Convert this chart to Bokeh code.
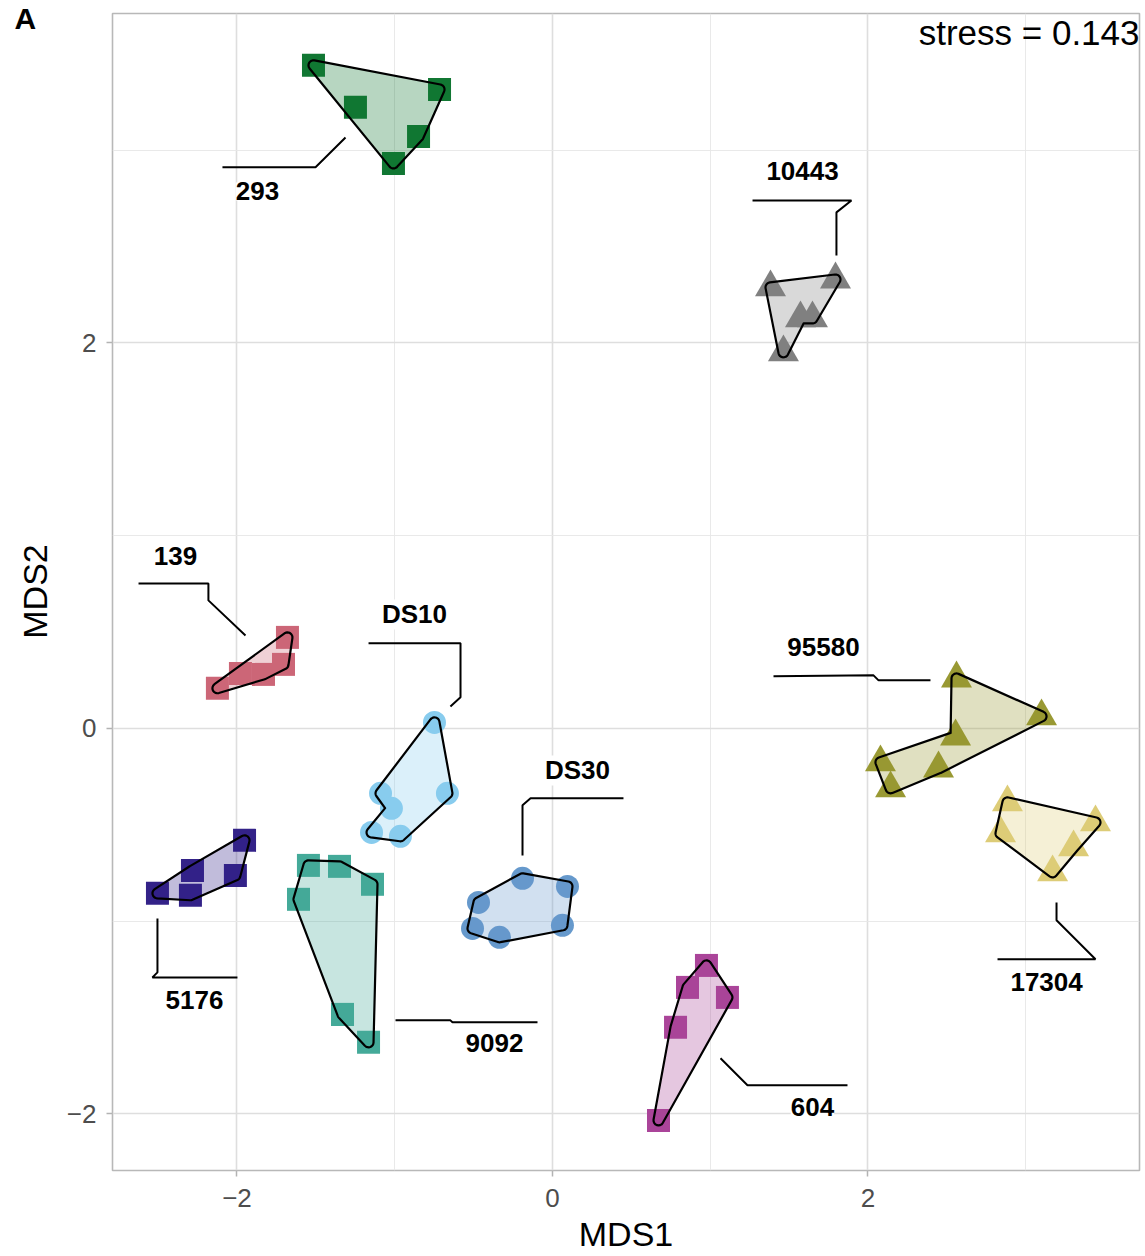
import math
from bokeh.plotting import figure
from bokeh.models import (ColumnDataSource, LabelSet, Label, FixedTicker, Range1d,
                          CustomJSTickFormatter)
from bokeh.core.properties import value
from bokeh.embed import file_html
from bokeh.resources import INLINE

# ---------------- data ----------------
groups = ["293", "10443", "139", "DS10", "DS30", "5176", "9092", "604", "95580", "17304"]
colors = ["#117733", "#808080", "#CC6677", "#88CCEE", "#6699CC",
          "#332288", "#44AA99", "#AA4499", "#999933", "#DDCC77"]
markers = ["square", "triangle", "square", "circle", "circle",
           "square", "square", "square", "triangle", "triangle"]

x_293 = [-1.515, -1.249, -0.716, -0.849, -1.008]
y_293 = [3.440, 3.222, 3.315, 3.071, 2.931]
hull_293 = [0, 2, 3, 4]

x_10443 = [1.382, 1.794, 1.572, 1.648, 1.464]
y_10443 = [2.288, 2.329, 2.127, 2.127, 1.951]
hull_10443 = [0, 1, 3, 2, 4]

x_139 = [-2.124, -1.978, -1.832, -1.705, -1.680]
y_139 = [0.208, 0.285, 0.280, 0.332, 0.472]
hull_139 = [0, 2, 3, 4]

x_DS10 = [-0.748, -1.090, -1.021, -1.147, -0.964, -0.666]
y_DS10 = [0.031, -0.337, -0.415, -0.540, -0.560, -0.337]
hull_DS10 = [0, 5, 4, 3, 2, 1]

x_DS30 = [-0.190, 0.095, -0.469, -0.507, -0.336, 0.063]
y_DS30 = [-0.778, -0.820, -0.903, -1.038, -1.084, -1.022]
hull_DS30 = [0, 1, 5, 4, 3, 2]

x_5176 = [-1.952, -2.282, -2.504, -2.295, -2.010]
y_5176 = [-0.581, -0.737, -0.856, -0.866, -0.763]
hull_5176 = [2, 1, 0, 4, 3]

x_9092 = [-1.547, -1.350, -1.141, -1.610, -1.331, -1.166]
y_9092 = [-0.711, -0.716, -0.809, -0.887, -1.484, -1.629]
hull_9092 = [0, 1, 2, 5, 4, 3]

x_604 = [0.976, 0.856, 1.109, 0.780, 0.672]
y_604 = [-1.230, -1.344, -1.396, -1.551, -2.034]
hull_604 = [0, 2, 4, 3, 1]

x_95580 = [2.561, 3.100, 2.555, 2.079, 2.447, 2.143]
y_95580 = [0.259, 0.062, -0.042, -0.176, -0.208, -0.311]
hull_95580 = [0, 1, 4, 5, 3, 2]

x_17304 = [2.884, 3.442, 2.840, 3.303, 3.170]
y_17304 = [-0.384, -0.488, -0.545, -0.617, -0.747]
hull_17304 = [0, 1, 3, 4, 2]

# label positions and leader paths
label_x = [-1.870, 1.585, -2.390, -0.875, 0.158, -2.269, -0.368, 1.648, 1.718, 3.132]
label_y = [2.786, 2.890, 0.892, 0.591, -0.218, -1.411, -1.634, -1.966, 0.420, -1.318]
leader_xs = [[-1.312, -1.502, -2.092],
             [1.800, 1.800, 1.895, 1.268],
             [-1.946, -2.181, -2.181, -2.624],
             [-0.647, -0.583, -0.583, -1.166],
             [-0.190, -0.190, -0.139, 0.450],
             [-2.504, -2.504, -2.536, -1.997],
             [-0.995, -0.647, -0.634, -0.095],
             [1.065, 1.236, 1.870],
             [1.401, 2.035, 2.067, 2.396],
             [3.195, 3.195, 3.442, 2.821]]
leader_ys = [[3.066, 2.911, 2.911],
             [2.454, 2.677, 2.739, 2.739],
             [0.482, 0.664, 0.752, 0.752],
             [0.114, 0.161, 0.441, 0.441],
             [-0.659, -0.399, -0.363, -0.363],
             [-0.986, -1.266, -1.292, -1.292],
             [-1.515, -1.515, -1.525, -1.525],
             [-1.712, -1.852, -1.852],
             [0.270, 0.275, 0.249, 0.249],
             [-0.903, -0.996, -1.198, -1.198]]

x_ticks = [-2, 0, 2]
x_minor = [-3, -1, 1, 3]
y_ticks = [-2, 0, 2]
y_minor = [-1, 1, 3]
x_title = "MDS1"
y_title = "MDS2"
stress_text = "stress = 0.143"
panel_tag = "A"

xs_all = [x_293, x_10443, x_139, x_DS10, x_DS30, x_5176, x_9092, x_604, x_95580, x_17304]
ys_all = [y_293, y_10443, y_139, y_DS10, y_DS30, y_5176, y_9092, y_604, y_95580, y_17304]
hulls = [hull_293, hull_10443, hull_139, hull_DS10, hull_DS30, hull_5176, hull_9092,
         hull_604, hull_95580, hull_17304]

FONT = "Liberation Sans"
W, H = 1145, 1256
BL, BR, BT, BB = 112, 6, 13, 86
X0, X1 = -2.789, 3.721
Y0, Y1 = -2.294, 3.709
SX = (W - BL - BR) / (X1 - X0)   # px per x unit
SY = (H - BT - BB) / (Y1 - Y0)   # px per y unit
FRAME_H = H - BT - BB


def rounded_hull(xs, ys, order, r=5.0, n=8):
    """Outward-offset hull polygon with round corners (done in pixel space)."""
    pts = [(xs[i] * SX, ys[i] * SY) for i in order]
    N = len(pts)
    area = sum(pts[i][0] * pts[(i + 1) % N][1] - pts[(i + 1) % N][0] * pts[i][1]
               for i in range(N))
    if area < 0:
        pts = pts[::-1]
    out = []
    for i in range(N):
        p0, p1, p2 = pts[i - 1], pts[i], pts[(i + 1) % N]
        d1 = (p1[0] - p0[0], p1[1] - p0[1])
        d2 = (p2[0] - p1[0], p2[1] - p1[1])
        l1 = math.hypot(*d1) or 1.0
        l2 = math.hypot(*d2) or 1.0
        d1 = (d1[0] / l1, d1[1] / l1)
        d2 = (d2[0] / l2, d2[1] / l2)
        n1 = (d1[1], -d1[0])
        n2 = (d2[1], -d2[0])
        cross = d1[0] * d2[1] - d1[1] * d2[0]
        if cross >= 0:
            a1 = math.atan2(n1[1], n1[0])
            a2 = math.atan2(n2[1], n2[0])
            while a2 < a1:
                a2 += 2 * math.pi
            for k in range(n + 1):
                a = a1 + (a2 - a1) * k / n
                out.append((p1[0] + r * math.cos(a), p1[1] + r * math.sin(a)))
        else:
            dot = n1[0] * n2[0] + n1[1] * n2[1]
            m = r / (1 + dot)
            out.append((p1[0] + (n1[0] + n2[0]) * m, p1[1] + (n1[1] + n2[1]) * m))
    return [q[0] / SX for q in out], [q[1] / SY for q in out]


p = figure(width=W, height=H,
           x_range=Range1d(X0, X1), y_range=Range1d(Y0, Y1),
           output_backend="svg", toolbar_location=None,
           min_border_left=BL, min_border_right=BR, min_border_top=BT, min_border_bottom=BB,
           background_fill_color="white", border_fill_color="white")

# grid / axes
xt = FixedTicker(ticks=x_ticks, minor_ticks=x_minor)
yt = FixedTicker(ticks=y_ticks, minor_ticks=y_minor)
p.xaxis.ticker = xt
p.yaxis.ticker = yt
p.xgrid.ticker = xt
p.ygrid.ticker = yt
for g in (p.xgrid, p.ygrid):
    g.grid_line_color = "#DEDEDE"
    g.grid_line_width = 1.6
    g.minor_grid_line_color = "#E6E6E6"
    g.minor_grid_line_width = 0.9

fmt = CustomJSTickFormatter(code="return tick < 0 ? '\\u2212' + (-tick) : String(tick);")
p.xaxis.formatter = fmt
p.yaxis.formatter = fmt
p.axis.axis_line_color = None
p.axis.minor_tick_line_color = None
p.axis.major_tick_line_color = "#B3B3B3"
p.axis.major_tick_line_width = 1.5
p.axis.major_tick_out = 6
p.axis.major_tick_in = 0
p.axis.major_label_text_font = FONT
p.axis.major_label_text_font_size = "26px"
p.axis.major_label_text_color = "#4D4D4D"
p.xaxis.major_label_standoff = 12
p.yaxis.major_label_standoff = 10
p.xaxis.axis_label = x_title
p.axis.axis_label_text_font = FONT
p.axis.axis_label_text_font_size = "34px"
p.axis.axis_label_text_font_style = "normal"
p.axis.axis_label_text_color = "black"
p.xaxis.axis_label_standoff = 5
p.outline_line_color = "#B8B8B8"
p.outline_line_width = 1.6

# points
for xs, ys, c, m in zip(xs_all, ys_all, colors, markers):
    size = 31 if m == "triangle" else 23
    p.scatter(xs, ys, marker=m, size=size, fill_color=c, line_color=None)

# hulls
for xs, ys, c, h in zip(xs_all, ys_all, colors, hulls):
    hx, hy = rounded_hull(xs, ys, h)
    p.patch(hx, hy, fill_color=c, fill_alpha=0.3, line_color="black",
            line_width=2.2, line_join="round")

# leader lines
p.multi_line(leader_xs, leader_ys, line_color="black", line_width=2)

# labels with white box
lab_src = ColumnDataSource(dict(x=label_x, y=label_y, text=groups))
p.add_layout(LabelSet(x="x", y="y", text="text", source=lab_src,
                      text_align="center", text_baseline="middle",
                      text_font=value(FONT), text_font_style="bold",
                      text_font_size="26px", text_color="black",
                      background_fill_color="white", background_fill_alpha=1.0))

p.add_layout(Label(x=X1, y=3.610, text=stress_text, text_align="right",
                   text_baseline="alphabetic", text_font=FONT,
                   text_font_size="35px", text_color="black"))

# y-axis title and panel tag in the left side panel (outside the frame)
p.add_layout(Label(x=9, y=FRAME_H - (591 - BT), x_units="screen", y_units="screen",
                   text=y_title, angle=math.pi / 2, text_align="center",
                   text_baseline="middle", text_font=FONT,
                   text_font_size="34px", text_color="black"), "left")
p.add_layout(Label(x=11, y=FRAME_H - 5, x_units="screen", y_units="screen",
                   text=panel_tag, text_align="left",
                   text_baseline="alphabetic", text_font=FONT, text_font_style="bold",
                   text_font_size="30px", text_color="black"), "left")

open("out.html", "w").write(file_html(p, INLINE))
